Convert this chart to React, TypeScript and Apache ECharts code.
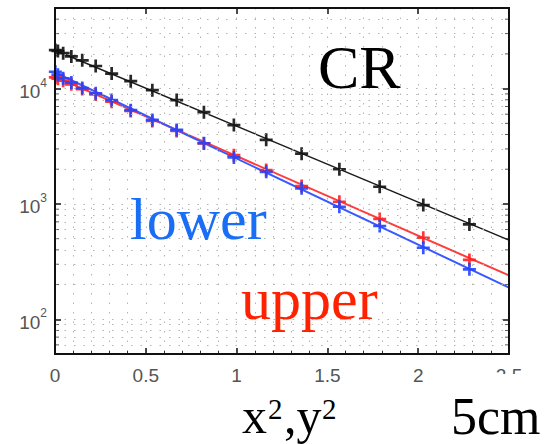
import React, { useEffect, useRef } from "react";
import * as echarts from "echarts";

// x positions (x^2, y^2 in cm^2) of the measured points
const X_VALUES = [0.002, 0.016, 0.045, 0.09, 0.15, 0.224, 0.312, 0.417, 0.536, 0.67, 0.82, 0.985, 1.163, 1.358, 1.566, 1.788, 2.028, 2.282];
// measured rates
const CR_VALUES = [21600, 21200, 20300, 19000, 17600, 15700, 13500, 11600, 9700, 7950, 6250, 4830, 3600, 2730, 2000, 1410, 977, 665];
const UPPER_VALUES = [12500, 12200, 11700, 10900, 9900, 8900, 7700, 6400, 5250, 4300, 3350, 2650, 1970, 1430, 1045, 740, 509, 327];
const LOWER_VALUES = [14000, 13200, 12300, 11300, 10100, 9100, 7950, 6500, 5350, 4380, 3360, 2530, 1900, 1366, 946, 644, 417, 271];
// exponential fit lines (end points)
const FIT_X = [0, 2.5];
const CR_FIT = [21500, 486];
const UPPER_FIT = [12700, 240];
const LOWER_FIT = [13800, 188];
// axes
const X_MIN = 0;
const X_MAX = 2.5;
const X_STEP = 0.5;
const Y_MIN = 50;
const Y_MAX = 50000;
const Y_MINOR = [60, 70, 80, 90, 200, 300, 400, 500, 600, 700, 800, 900, 2000, 3000, 4000, 5000, 6000, 7000, 8000, 9000, 20000, 30000, 40000];

const PLUS = "path://M5,0h2.6v5h5v2.6h-5v5h-2.6v-5h-5v-2.6h5z";
const GRID_LINE = { color: "#b4b4b4", width: 1, type: [1.5, 8] as any };

const GRID_LEFT = 55;
const GRID_RIGHT = 37;
const GRID_TOP = 8;
const GRID_BOTTOM = 90;
const W = 546;
const H = 444;

export default function App() {
  const ref = useRef<HTMLDivElement>(null);
  useEffect(() => {
    if (!ref.current) return;
    const chart = echarts.init(ref.current, null, { renderer: "svg" });
    const pts = (vals: number[]) => X_VALUES.map((x, i) => [x, vals[i]]);
    const fit = (vals: number[]) => FIT_X.map((x, i) => [x, vals[i]]);
    const yLabel = (v: number) => {
      const e = Math.log10(v);
      const r = Math.round(e);
      if (Math.abs(e - r) > 1e-6) return "";
      return `{b|10}{s|${r}}`;
    };
    const mkLine = () => ({ show: true, onZero: false, lineStyle: { color: "#000", width: 2 } });
    const mkTick = () => ({ show: true, inside: true, length: 6, lineStyle: { color: "#111", width: 1.5 } });
    const scatterSeries = (name: string, vals: number[], color: string) => ({
      name,
      type: "scatter",
      data: pts(vals),
      symbol: PLUS,
      symbolSize: 13,
      itemStyle: { color, opacity: 0.9 },
      z: 4,
    });
    const fitSeries = (name: string, vals: number[], color: string, width: number) => ({
      name: name + " fit",
      type: "line",
      data: fit(vals),
      showSymbol: false,
      symbol: "none",
      lineStyle: { color, width },
      z: 3,
    });
    const option: any = {
      animation: false,
      grid: { show: true, left: GRID_LEFT, right: GRID_RIGHT, top: GRID_TOP, bottom: GRID_BOTTOM, borderColor: "#000", borderWidth: 2 },
      xAxis: [
        {
          type: "value",
          min: X_MIN,
          max: X_MAX,
          interval: X_STEP,
          axisLine: mkLine(),
          axisTick: mkTick(),
          minorTick: { show: true, splitNumber: 5, length: 3, lineStyle: { color: "#333", width: 1 } },
          splitLine: { show: true, lineStyle: GRID_LINE },
          minorSplitLine: { show: true, lineStyle: GRID_LINE },
          axisLabel: { margin: 12, color: "#555", fontSize: 19, fontFamily: "Liberation Sans" },
        },
        {
          type: "value",
          position: "top",
          min: X_MIN,
          max: X_MAX,
          interval: X_STEP,
          axisLine: mkLine(),
          axisTick: mkTick(),
          splitLine: { show: false },
          axisLabel: { show: false },
        },
      ],
      yAxis: [
        {
          type: "log",
          logBase: 10,
          min: Y_MIN,
          max: Y_MAX,
          axisLine: mkLine(),
          axisTick: mkTick(),
          splitLine: { show: true, lineStyle: GRID_LINE },
          axisLabel: {
            margin: 8,
            formatter: yLabel,
            rich: {
              b: { fontSize: 19, color: "#555", fontFamily: "Liberation Sans", lineHeight: 24, padding: [6, 0, 0, 0] },
              s: { fontSize: 12, color: "#555", fontFamily: "Liberation Sans", lineHeight: 12, verticalAlign: "top" },
            },
          },
        },
        {
          type: "log",
          logBase: 10,
          position: "right",
          min: Y_MIN,
          max: Y_MAX,
          axisLine: mkLine(),
          axisTick: mkTick(),
          splitLine: { show: false },
          axisLabel: { show: false },
        },
      ],
      series: [
        {
          name: "minor grid",
          type: "line",
          data: [],
          z: 1,
          silent: true,
          markLine: {
            silent: true,
            symbol: "none",
            label: { show: false },
            lineStyle: GRID_LINE,
            data: Y_MINOR.map((v) => ({ yAxis: v })),
          },
        },
        {
          name: "minor ticks left",
          type: "scatter",
          data: Y_MINOR.map((v) => [X_MIN, v]),
          symbol: "rect",
          symbolSize: [4, 1],
          symbolOffset: [2, 0],
          clip: false,
          silent: true,
          itemStyle: { color: "#333" },
        },
        {
          name: "minor ticks right",
          type: "scatter",
          data: Y_MINOR.map((v) => [X_MAX, v]),
          symbol: "rect",
          symbolSize: [4, 1],
          symbolOffset: [-2, 0],
          clip: false,
          silent: true,
          itemStyle: { color: "#333" },
        },
        fitSeries("CR", CR_FIT, "#1a1a1a", 1.5),
        fitSeries("upper", UPPER_FIT, "#ff3b3b", 2),
        fitSeries("lower", LOWER_FIT, "#3a58ff", 2),
        scatterSeries("CR", CR_VALUES, "#111111"),
        scatterSeries("upper", UPPER_VALUES, "#ff2020"),
        scatterSeries("lower", LOWER_VALUES, "#2244ff"),
      ],
      graphic: [
        {
          type: "rect",
          z: 55,
          silent: true,
          shape: { x: GRID_LEFT, y: GRID_TOP, width: W - GRID_LEFT - GRID_RIGHT, height: H - GRID_TOP - GRID_BOTTOM },
          style: { fill: "none", stroke: "#111", lineWidth: 2 },
        },
        { type: "rect", shape: { x: 470, y: 374, width: 76, height: 70 }, style: { fill: "#ffffff" }, z: 50 },
        { type: "text", x: 318, y: 67, z: 60, style: { text: "CR", font: "62px 'Liberation Serif'", fill: "#000", textAlign: "left", textVerticalAlign: "middle" } },
        { type: "text", x: 130, y: 219, z: 60, style: { text: "lower", font: "60px 'Liberation Serif'", fill: "#1a6ef5", textAlign: "left", textVerticalAlign: "middle" } },
        { type: "text", x: 241, y: 299, z: 60, style: { text: "upper", font: "60px 'Liberation Serif'", fill: "#ff2200", textAlign: "left", textVerticalAlign: "middle" } },
        { type: "text", x: 242, y: 416, z: 60, style: { text: "x", font: "50px 'Liberation Serif'", fill: "#000", textAlign: "left", textVerticalAlign: "middle" } },
        { type: "text", x: 268, y: 409, z: 60, style: { text: "2", font: "29px 'Liberation Serif'", fill: "#000", textAlign: "left", textVerticalAlign: "middle" } },
        { type: "text", x: 284, y: 416, z: 60, style: { text: ",y", font: "50px 'Liberation Serif'", fill: "#000", textAlign: "left", textVerticalAlign: "middle" } },
        { type: "text", x: 322, y: 409, z: 60, style: { text: "2", font: "29px 'Liberation Serif'", fill: "#000", textAlign: "left", textVerticalAlign: "middle" } },
        { type: "text", x: 451, y: 416, z: 60, style: { text: "5cm", font: "52px 'Liberation Serif'", fill: "#000", textAlign: "left", textVerticalAlign: "middle" } },
      ],
    };
    chart.setOption(option);
    return () => chart.dispose();
  }, []);
  return <div ref={ref} style={{ position: "fixed", left: 0, top: 0, width: W, height: H, background: "#fff" }} />;
}
